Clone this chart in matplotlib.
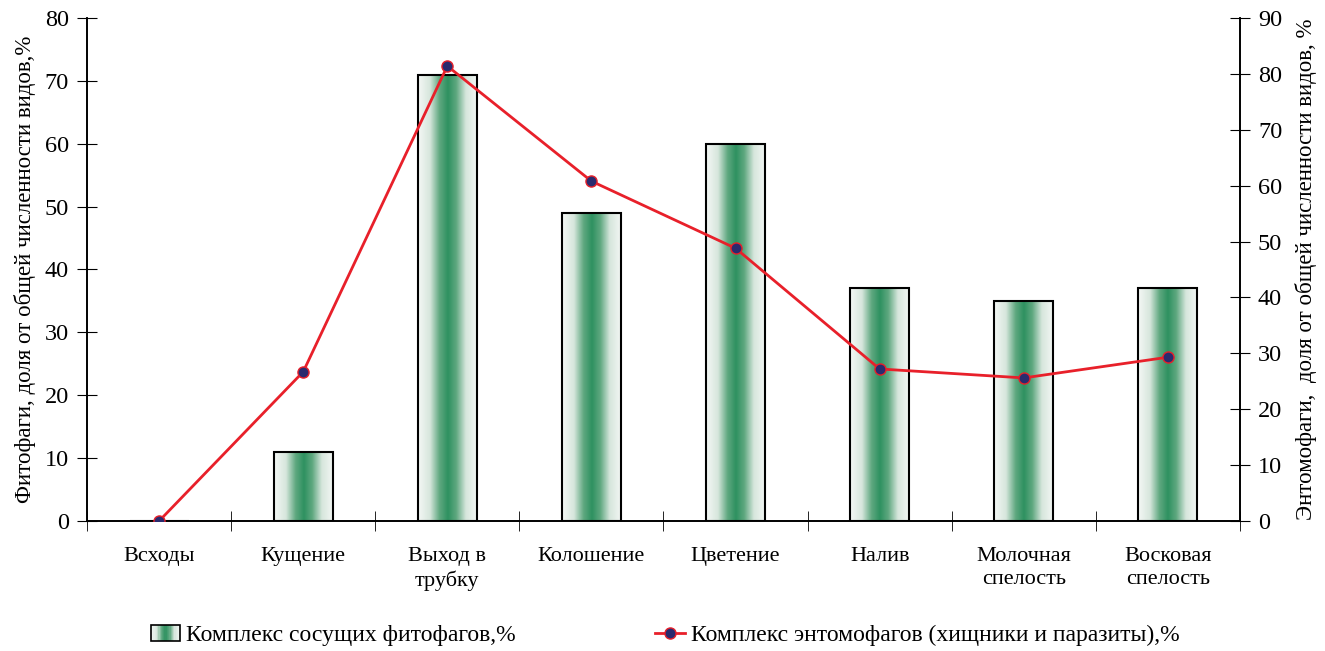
import numpy as np
import matplotlib.pyplot as plt
from matplotlib.colors import LinearSegmentedColormap
from matplotlib.patches import Rectangle
from matplotlib.lines import Line2D
from matplotlib.legend_handler import HandlerBase

plt.rcParams['font.family'] = ['Liberation Serif', 'DejaVu Serif']

stages = ['Всходы', 'Кущение', 'Выход в\nтрубку', 'Колошение', 'Цветение',
          'Налив', 'Молочная\nспелость', 'Восковая\nспелость']
sucking = [0, 11, 71, 49, 60, 37, 35, 37]
entomophages = [0, 26.7, 81.4, 60.8, 48.8, 27.2, 25.6, 29.3]

green = LinearSegmentedColormap.from_list(
    'bar_green',
    [(0.0, '#f5f8f6'), (0.2, '#d6e6dc'), (0.36, '#5fa880'), (0.5, '#2e9160'),
     (0.64, '#5fa880'), (0.8, '#d6e6dc'), (1.0, '#f5f8f6')])


class GradientHandler(HandlerBase):
    def create_artists(self, legend, orig_handle, xdescent, ydescent,
                       width, height, fontsize, trans):
        arts = []
        n = 24
        for i in range(n):
            arts.append(Rectangle((-xdescent + width * i / n, -ydescent),
                                  width / n, height,
                                  facecolor=green((i + 0.5) / n),
                                  edgecolor='none', transform=trans))
        arts.append(Rectangle((-xdescent, -ydescent), width, height,
                              facecolor='none', edgecolor='black',
                              lw=1.2, transform=trans))
        return arts


fig = plt.figure(figsize=(13.25, 6.51), dpi=100)
ax = fig.add_axes([0.0657, 0.1997, 0.8701, 0.7727])
ax2 = ax.twinx()

x = np.arange(len(stages))
bars = ax.bar(x, sucking, width=0.41, facecolor='none', edgecolor='black',
              lw=1.5, zorder=3)
grad = np.linspace(0, 1, 256).reshape(1, -1)
for b in bars:
    if b.get_height() <= 0:
        continue
    im = ax.imshow(grad, cmap=green, aspect='auto', zorder=2,
                   extent=[b.get_x(), b.get_x() + b.get_width(),
                           0, b.get_height()])
    im.set_clip_path(b)

ax.set_xlim(-0.5, len(stages) - 0.5)
ax.set_ylim(0, 80)
ax.set_yticks(range(0, 81, 10))
ax.set_xticks(x)
ax.set_xticklabels(stages, fontsize=16, linespacing=1.25)
ax.set_xticks(np.arange(-0.5, len(stages), 1), minor=True)
ax.tick_params(axis='x', which='major', length=0, pad=19)
ax.tick_params(axis='x', which='minor', direction='inout', length=14)
ax.tick_params(axis='y', direction='inout', length=14, labelsize=17.5, pad=6)
ax.set_ylabel('Фитофаги, доля от общей численности видов,%', fontsize=16.5,
              labelpad=6)

ax2.plot(x, entomophages, color='#e8202a', lw=2, marker='o', ms=8,
         mfc='#2a2a6e', mec='#e8202a', mew=1, zorder=4)
ax2.set_ylim(0, 90)
ax2.set_yticks(range(0, 91, 10))
ax2.tick_params(axis='y', direction='inout', length=14, labelsize=17.5, pad=6)
ax2.set_ylabel('Энтомофаги,  доля от общей численности видов, %',
               fontsize=16.5, labelpad=9)

for a in (ax, ax2):
    a.spines['top'].set_visible(False)
    for s in ('left', 'right', 'bottom'):
        a.spines[s].set_linewidth(1.2)

h_bar = Rectangle((0, 0), 1, 1)
h_line = Line2D([], [], color='#e8202a', lw=2, marker='o', ms=8,
                mfc='#2a2a6e', mec='#e8202a')
fig.legend([h_bar, h_line],
           ['Комплекс сосущих фитофагов,%',
            'Комплекс энтомофагов (хищники и паразиты),%'],
           handler_map={Rectangle: GradientHandler()},
           loc='center', bbox_to_anchor=(0.502, 0.024), ncol=2, frameon=False,
           fontsize=17, handlelength=1.25, handleheight=0.7,
           handletextpad=0.25, columnspacing=5.9)

fig.savefig('out.png', dpi=100)
